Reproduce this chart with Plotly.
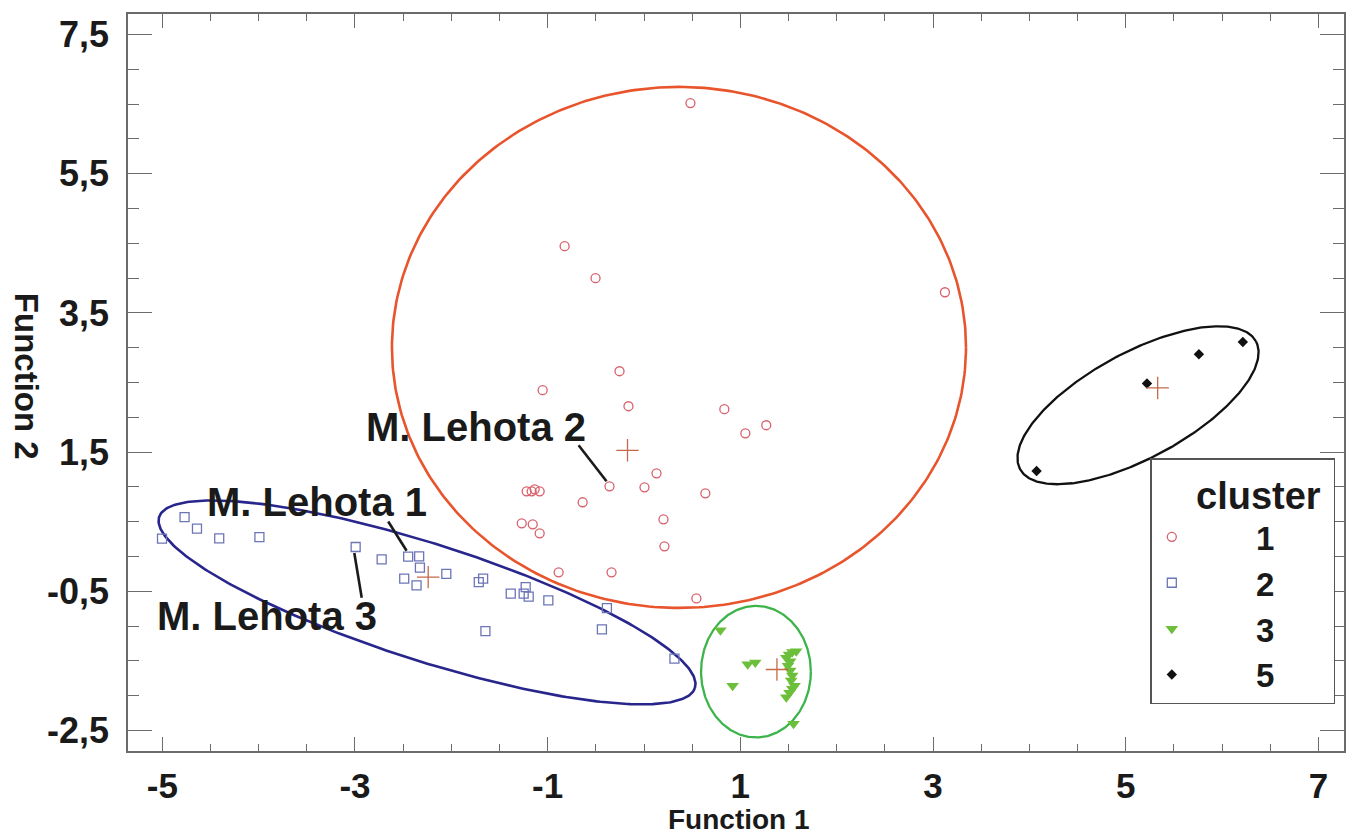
import numpy as np
import plotly.graph_objects as go

# ---------------- data ----------------
cluster_names = ["1", "2", "3", "5"]

c1_x = [0.482, -0.824, -0.503, 3.124, -0.254, -1.052, -0.161, 0.834, 1.269, 1.052,
        0.130, -0.358, 0.005, -1.218, -1.166, -1.135, -1.083, 0.637, -0.637, 0.202,
        -1.269, -1.155, -1.083, 0.212, -0.886, -0.337, 0.544]
c1_y = [6.515, 4.459, 3.999, 3.797, 2.662, 2.389, 2.159, 2.116, 1.886, 1.770,
        1.195, 1.008, 0.994, 0.937, 0.937, 0.965, 0.937, 0.908, 0.779, 0.534,
        0.477, 0.462, 0.333, 0.146, -0.228, -0.228, -0.602]

c2_x = [-5.003, -4.769, -4.640, -4.409, -3.992, -2.993, -2.723, -2.448, -2.334, -2.326,
        -2.489, -2.361, -2.052, -1.715, -1.670, -1.646, -1.383, -1.228, -1.249, -1.197,
        -0.993, -0.385, -0.437, 0.316]
c2_y = [0.256, 0.567, 0.400, 0.261, 0.279, 0.136, -0.041, -0.002, 0.002, -0.161,
        -0.319, -0.415, -0.250, -0.368, -0.319, -1.072, -0.534, -0.440, -0.534, -0.578,
        -0.631, -0.742, -1.048, -1.469]

c3_x = [0.793, 1.076, 1.155, 0.920, 1.580, 1.539, 1.505, 1.477, 1.518, 1.494,
        1.518, 1.539, 1.528, 1.563, 1.539, 1.511, 1.477, 1.552]
c3_y = [-1.059, -1.547, -1.524, -1.859, -1.360, -1.374, -1.407, -1.455, -1.504, -1.570,
        -1.637, -1.709, -1.781, -1.859, -1.900, -1.958, -2.021, -2.404]

c5_x = [6.216, 5.760, 5.221, 4.075]
c5_y = [3.083, 2.906, 2.485, 1.228]

centroid_x = [-0.171, -2.240, 1.380, 5.332]
centroid_y = [1.526, -0.296, -1.624, 2.422]

# ellipse centres (data units), semi-axes (screen px) and tilt (deg, counter-clockwise)
ell_cx = [0.363, -2.252, 1.162, 5.128]
ell_cy = [3.004, -0.660, -1.655, 2.173]
ell_a = [287.5, 281.6, 55.0, 134.3]
ell_b = [260.5, 58.4, 65.8, 52.8]
ell_ang = [0.0, -17.67, 0.0, 28.4]

x_tickvals = [-5, -3, -1, 1, 3, 5, 7]
x_ticktext = ["-5", "-3", "-1", "1", "3", "5", "7"]
y_tickvals = [7.5, 5.5, 3.5, 1.5, -0.5, -2.5]
y_ticktext = ["7,5", "5,5", "3,5", "1,5", "-0,5", "-2,5"]

labels = ["M. Lehota 2", "M. Lehota 1", "M. Lehota 3"]
label_x = [-1.746, -3.397, -3.915]
label_y = [1.857, 0.778, -0.858]
leader_x0 = [-0.679, -2.655, -3.007]
leader_y0 = [1.598, 0.503, 0.049]
leader_x1 = [-0.389, -2.464, -2.930]
leader_y1 = [1.080, 0.082, -0.593]

# ---------------- layout geometry ----------------
W, H = 1346, 837
ML, MR, MT, MB = 128, 0, 14, 86
xr = [-5.356, 7.266]
yr = [-2.795, 7.795]
PW, PH = W - ML - MR, H - MT - MB
SX = PW / (xr[1] - xr[0])
SY = PH / (yr[1] - yr[0])

FONT = "Liberation Sans, Arial, Helvetica, sans-serif"
TXT = "#1a1a1a"
AX = "#6b6b6b"

ell_colors = ["#e8542c", "#28268c", "#3cb44a", "#111111"]
ell_widths = [2.6, 2.6, 2.3, 2.3]

fig = go.Figure()

t = np.linspace(0, 2 * np.pi, 361)
for i in range(4):
    th = np.deg2rad(ell_ang[i])
    dx = ell_a[i] * np.cos(t) * np.cos(th) - ell_b[i] * np.sin(t) * np.sin(th)
    dy = ell_a[i] * np.cos(t) * np.sin(th) + ell_b[i] * np.sin(t) * np.cos(th)
    fig.add_trace(go.Scatter(
        x=ell_cx[i] + dx / SX, y=ell_cy[i] + dy / SY, mode="lines",
        line=dict(color=ell_colors[i], width=ell_widths[i]),
        showlegend=False, hoverinfo="skip"))

pad = "\u00a0" * 7
fig.add_trace(go.Scatter(
    x=c1_x, y=c1_y, mode="markers", name=pad + cluster_names[0],
    marker=dict(symbol="circle-open", size=9, color="#d8606c", line=dict(width=1.3))))
fig.add_trace(go.Scatter(
    x=c2_x, y=c2_y, mode="markers", name=pad + cluster_names[1],
    marker=dict(symbol="square-open", size=9, color="#6c76b6", line=dict(width=1.3))))
fig.add_trace(go.Scatter(
    x=c3_x, y=c3_y, mode="markers", name=pad + cluster_names[2],
    marker=dict(symbol="triangle-down", size=11, color="#6cbf3a")))
fig.add_trace(go.Scatter(
    x=c5_x, y=c5_y, mode="markers", name=pad + cluster_names[3],
    marker=dict(symbol="diamond", size=8, color="#111111")))

fig.add_trace(go.Scatter(
    x=centroid_x, y=centroid_y, mode="markers", showlegend=False, hoverinfo="skip",
    marker=dict(symbol="cross-thin-open", size=16, color="#c46a4a",
                line=dict(width=1.3, color="#c46a4a"))))

for i in range(3):
    fig.add_shape(type="line", xref="x", yref="y",
                  x0=leader_x0[i], y0=leader_y0[i], x1=leader_x1[i], y1=leader_y1[i],
                  line=dict(color=TXT, width=2.6))
    fig.add_annotation(x=label_x[i], y=label_y[i], xref="x", yref="y", text=labels[i],
                       showarrow=False, xanchor="center", yanchor="middle",
                       font=dict(family=FONT, size=40, color=TXT, weight="bold"))

# axis titles
fig.add_annotation(x=(740 - ML) / PW, y=-(819 - (H - MB)) / PH,
                   xref="paper", yref="paper", text="Function 1", showarrow=False,
                   xanchor="center", yanchor="middle",
                   font=dict(family=FONT, size=28, color=TXT, weight="bold"))
fig.add_annotation(x=-(ML - 27) / PW, y=((H - MB) - 376) / PH,
                   xref="paper", yref="paper", text="Function 2", showarrow=False,
                   textangle=90, xanchor="center", yanchor="middle",
                   font=dict(family=FONT, size=33, color=TXT, weight="bold"))

axis_common = dict(showgrid=False, zeroline=False, showline=True, linecolor=AX,
                   linewidth=1.5, mirror="ticks", ticks="inside", tickcolor=AX,
                   tickwidth=1.4, tickmode="array")

fig.update_xaxes(range=xr, tickvals=x_tickvals, ticktext=x_ticktext, ticklen=14,
                 tickfont=dict(family=FONT, size=35, color=TXT, weight="bold"),
                 ticklabelstandoff=3,
                 minor=dict(dtick=0.5, tick0=-5, ticks="inside", ticklen=7,
                            tickcolor=AX, tickwidth=1.2, showgrid=False),
                 **axis_common)
fig.update_yaxes(range=yr, tickvals=y_tickvals, ticktext=y_ticktext, ticklen=24,
                 tickfont=dict(family=FONT, size=36, color=TXT, weight="bold"),
                 ticklabelstandoff=10,
                 minor=dict(dtick=0.5, tick0=-2.5, ticks="inside", ticklen=11,
                            tickcolor=AX, tickwidth=1.2, showgrid=False),
                 **axis_common)

fig.update_layout(
    width=W, height=H,
    margin=dict(l=ML, r=MR, t=MT, b=MB, pad=0),
    paper_bgcolor="white", plot_bgcolor="white",
    showlegend=True,
    legend=dict(
        x=(1152 - ML) / PW, y=((H - MB) - 458) / PH,
        xanchor="left", yanchor="top",
        bordercolor="#555555", borderwidth=1.5, bgcolor="white",
        font=dict(family=FONT, size=33, color=TXT, weight="bold"),
        title=dict(text="\u00a0" * 4 + "cluster" + "\u00a0",
                   font=dict(family=FONT, size=38, color=TXT, weight="bold")),
        tracegroupgap=0, itemsizing="trace"),
)

fig.write_html("out.html")
